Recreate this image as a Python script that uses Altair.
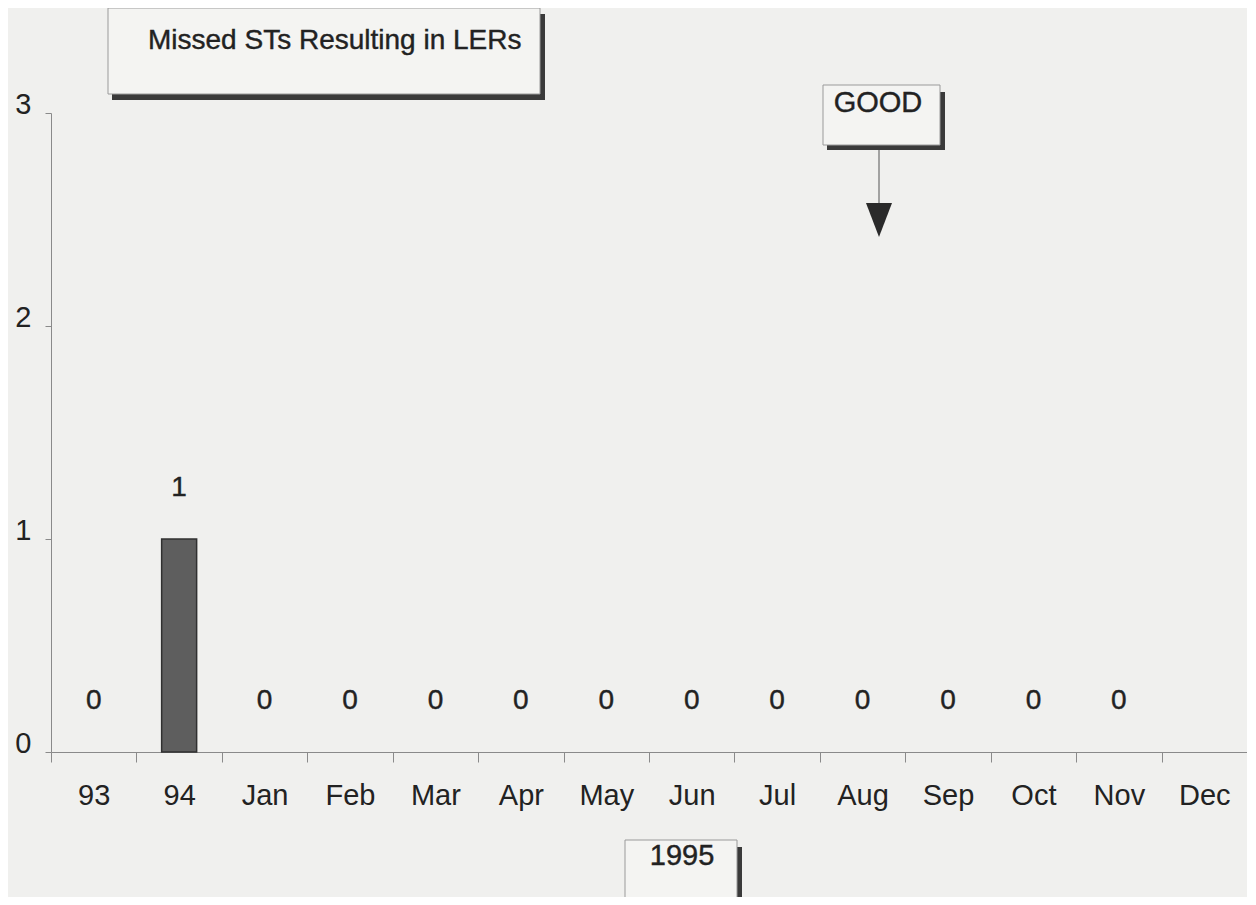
import altair as alt
import pandas as pd

# ---- data ----
categories = ["93", "94", "Jan", "Feb", "Mar", "Apr", "May", "Jun",
              "Jul", "Aug", "Sep", "Oct", "Nov", "Dec"]
values = [0, 1, 0, 0, 0, 0, 0, 0, 0, 0, 0, 0, 0, None]
y_ticks = [0, 1, 2, 3]
title_text = "Missed STs Resulting in LERs"
good_text = "GOOD"
year_text = "1995"

df = pd.DataFrame({"cat": categories, "value": values})

FONT = "Liberation Sans, Arial, Helvetica, sans-serif"
TXT = "#222222"
BG = "#f0f0ee"
W, H = 1196, 639

x_enc = alt.X("cat:N", sort=categories, title=None,
              scale=alt.Scale(domain=categories, paddingInner=0, paddingOuter=0),
              axis=alt.Axis(labelAngle=0, tickBand="extent", tickSize=10,
                            labelPadding=19, labelFontSize=29, labelFont=FONT,
                            labelColor=TXT, domainColor="#8a8a8a", tickColor="#8a8a8a",
                            grid=False))
y_enc = alt.Y("value:Q", title=None,
              scale=alt.Scale(domain=[0, 3], nice=False),
              axis=alt.Axis(values=y_ticks, format="d", tickSize=6, labelPadding=14,
                            labelFontSize=29, labelFont=FONT, labelColor=TXT,
                            labelBaseline="alphabetic", domainColor="#8a8a8a",
                            tickColor="#8a8a8a", grid=False))

base = alt.Chart(df)

bars = base.transform_filter("datum.value > 0").mark_bar(
    width=35, color="#5e5e5e", stroke="#303030", strokeWidth=1.5
).encode(x=x_enc, y=y_enc)

labels = base.transform_filter("isValid(datum.value)").mark_text(
    dy=-51, baseline="middle", fontSize=28, font=FONT, color=TXT,
    stroke=TXT, strokeWidth=0.4
).encode(x=alt.X("cat:N", sort=categories), y="value:Q", text="value:Q")

one = pd.DataFrame({"k": [0]})


def rect(x1, x2, y1, y2, fill, stroke=None, sw=0):
    kw = dict(fill=fill)
    if stroke:
        kw.update(stroke=stroke, strokeWidth=sw)
    return alt.Chart(one).mark_rect(**kw).encode(
        x=alt.value(x1), x2=alt.value(x2), y=alt.value(y1), y2=alt.value(y2))


def txt(s, x, y, size=28, align="center"):
    return alt.Chart(one).mark_text(
        text=s, fontSize=size, font=FONT, color=TXT, align=align, baseline="middle",
        stroke=TXT, strokeWidth=0.4
    ).encode(x=alt.value(x), y=alt.value(y))


SH = "#3a3a3a"
# title box
title_layers = [
    rect(61, 494, -19, -13, SH),
    rect(489, 494, -99, -13, SH),
    rect(57, 489, -105, -19, "#f4f4f2", "#9a9a9a", 1),
    txt(title_text, 97, -72, 28, "left"),
]
# GOOD box + arrow
good_layers = [
    rect(776, 894, 32, 37, SH),
    rect(889, 894, -21, 37, SH),
    rect(772, 889, -28, 32, "#f4f4f2", "#9a9a9a", 1),
    txt(good_text, 827, -10, 29),
    alt.Chart(one).mark_rule(color="#555555", strokeWidth=1).encode(
        x=alt.value(828), y=alt.value(37), y2=alt.value(92)),
    alt.Chart(one).mark_point(
        shape="M-0.765,-1L0.765,-1L0,1Z", size=1156, filled=True,
        color="#2a2a2a", opacity=1
    ).encode(x=alt.value(828), y=alt.value(107)),
]
# 1995 box
year_layers = [
    rect(579, 691, 787, 792, SH),
    rect(686, 691, 734, 792, SH),
    rect(574, 686, 727, 787, "#f4f4f2", "#9a9a9a", 1),
    txt(year_text, 631, 743, 29),
]

chart = alt.layer(
    bars, labels, *title_layers, *good_layers, *year_layers
).properties(
    width=W, height=H,
    autosize=alt.AutoSizeParams(type="none"),
    padding={"left": 43, "top": 105, "right": 0, "bottom": 145},
    background=BG,
).configure_view(stroke=None)

chart.save("out.html", embed_options={"renderer": "svg", "actions": False})
